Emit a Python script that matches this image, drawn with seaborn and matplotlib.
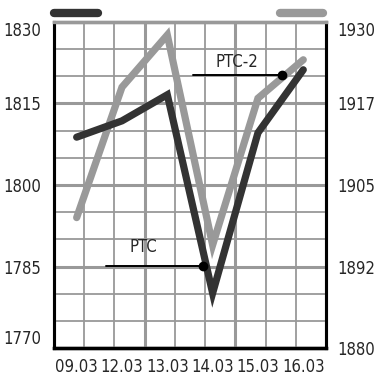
import numpy as np
import pandas as pd
import matplotlib
matplotlib.use("Agg")
import matplotlib.pyplot as plt
import seaborn as sns

dates = ["09.03", "12.03", "13.03", "14.03", "15.03", "16.03"]
ptc = [1808.8, 1811.8, 1816.6, 1780.1, 1809.6, 1821.2]
ptc2 = [1900.0, 1920.0, 1928.0, 1895.8, 1918.3, 1924.2]
left_ticks = [1770, 1785, 1800, 1815, 1830]
right_ticks = [1880, 1892.5, 1905, 1917.5, 1930]
right_labels = ["1880", "1892", "1905", "1917", "1930"]

sns.set_style("white")
plt.rcParams["font.family"] = ["DejaVu Sans"]
plt.rcParams["font.stretch"] = "condensed"

DARK = "#333333"
GREY = "#999999"

df = pd.DataFrame({"date": dates, "x": np.arange(len(dates)), "ptc": ptc, "ptc2": ptc2})

fig = plt.figure(figsize=(3.83, 3.85), dpi=100)
ax = fig.add_axes([0.141, 0.096, 0.710, 0.847])
ax2 = ax.twinx()

ax.set_xlim(-0.5, 5.5)
ax.set_ylim(1770, 1830)
ax2.set_ylim(1880, 1930)

# grid
for i, gx in enumerate(np.linspace(-0.5, 5.5, 10)[1:-1], start=1):
    ax.axvline(gx, color=GREY, lw=2.2 if i in (3, 6) else 1.3, zorder=0)
for gy in np.arange(1775, 1830, 5):
    major = (gy - 1770) % 15 == 0
    ax.axhline(gy, color=GREY, lw=2.2 if major else 1.3, zorder=0)

sns.lineplot(data=df, x="x", y="ptc", ax=ax, color=DARK, lw=5.2,
             solid_capstyle="round", solid_joinstyle="miter", zorder=3)
sns.lineplot(data=df, x="x", y="ptc2", ax=ax2, color=GREY, lw=5.2,
             solid_capstyle="round", solid_joinstyle="miter", zorder=3)

FS = 12
ax.set_xticks(df["x"])
ax.set_xticklabels(dates)
ax.set_yticks(left_ticks)
ax.set_yticklabels([str(t) for t in left_ticks])
ax2.set_yticks(right_ticks)
ax2.set_yticklabels(right_labels)
for a in (ax, ax2):
    a.set_xlabel("")
    a.set_ylabel("")
ax.tick_params(axis="y", length=0, pad=9, labelsize=FS)
ax.tick_params(axis="x", length=0, pad=7, labelsize=FS)
ax2.tick_params(axis="y", length=0, pad=8, labelsize=FS)
ylabs = ax.get_yticklabels()
ylabs[0].set_va("bottom")
ylabs[-1].set_va("top")
rlabs = ax2.get_yticklabels()
rlabs[-1].set_va("top")

for a in (ax, ax2):
    a.spines["left"].set_color("black")
    a.spines["left"].set_linewidth(2.2)
    a.spines["right"].set_color("black")
    a.spines["right"].set_linewidth(2.2)
    a.spines["bottom"].set_color("black")
    a.spines["bottom"].set_linewidth(2.4)
    a.spines["top"].set_color(GREY)
    a.spines["top"].set_linewidth(2.4)

# annotations
ax.plot([2.57, 4.54], [1820.2, 1820.2], color="black", lw=1.4, zorder=4)
ax.plot([4.54], [1820.2], "o", color="black", ms=6, zorder=4)
ax.text(3.53, 1822.6, "PTC-2", ha="center", va="center", fontsize=FS, zorder=4)
ax.plot([0.64, 2.79], [1785.1, 1785.1], color="black", lw=1.4, zorder=4)
ax.plot([2.79], [1785.1], "o", color="black", ms=6, zorder=4)
ax.text(1.47, 1788.6, "PTC", ha="center", va="center", fontsize=FS, zorder=4)
ax2.set_zorder(1)
ax.set_zorder(2)
ax.patch.set_visible(False)

# legend bars at top
fig.add_artist(plt.Line2D([0.141, 0.255], [0.967, 0.967], transform=fig.transFigure,
                          color=DARK, lw=6, solid_capstyle="round"))
fig.add_artist(plt.Line2D([0.731, 0.843], [0.967, 0.967], transform=fig.transFigure,
                          color=GREY, lw=6, solid_capstyle="round"))

fig.savefig("out.png", dpi=100)
